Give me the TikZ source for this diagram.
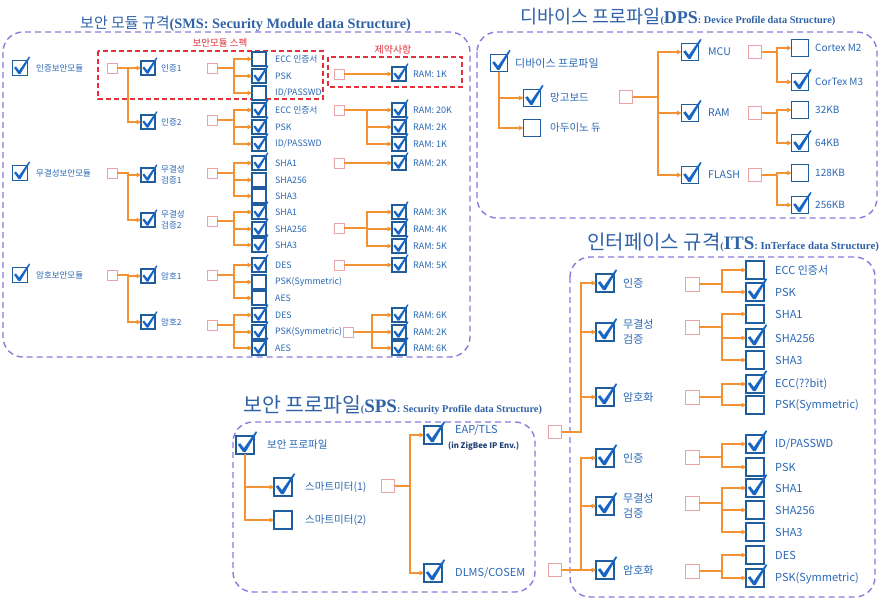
\documentclass[tikz,border=0pt]{standalone}
\usepackage{fontspec}
\setmainfont{Noto Sans CJK KR}
\newfontfamily\ser{Liberation Serif}
\usetikzlibrary{arrows.meta}
\definecolor{purp}{HTML}{8A7CDC}
\definecolor{redd}{HTML}{E2313B}
\definecolor{orng}{HTML}{F39232}
\definecolor{pinkc}{HTML}{E9A2A6}
\definecolor{boxb}{HTML}{1F5D9C}
\definecolor{chkb}{HTML}{1766C6}
\definecolor{txtb}{HTML}{2A68B5}
\definecolor{ttlb}{HTML}{2F62A6}
\definecolor{navy}{HTML}{1E3F73}
\newcommand\CK[2]{\fill[chkb] ([shift={(-0.40*#2,-0.02*#2)}]#1.center) -- ([shift={(-0.27*#2,-0.10*#2)}]#1.center) -- ([shift={(-0.06*#2,0.17*#2)}]#1.center) -- ([shift={(0.60*#2,-0.76*#2)}]#1.center) -- ([shift={(0.68*#2,-0.72*#2)}]#1.center) -- ([shift={(0.03*#2,0.40*#2)}]#1.center) -- ([shift={(-0.10*#2,0.40*#2)}]#1.center) -- cycle;}
\newcommand\ckb[4]{\node[cbx=#4] (#1) at (#2,#3) {};\CK{#1}{#4}}
\newcommand\ucb[4]{\node[cbx=#4] (#1) at (#2,#3) {};}
\newcommand\fs[1]{\fontsize{#1}{#1}\selectfont}
\tikzset{
  cbx/.style={draw=boxb, line width=1.1pt, fill=white, minimum size=#1, inner sep=0pt, outer sep=0pt},
  pk/.style={draw=pinkc, line width=0.9pt, fill=white, minimum size=#1, inner sep=0pt, outer sep=0pt},
  lb/.style={anchor=west, text=txtb, inner sep=0pt, font=\fs{#1}, align=left},
  ttl/.style={anchor=base west, text=ttlb, inner sep=0pt},
  arr/.style={draw=orng, line width=1.3pt, -{Triangle[length=4.5pt,width=4.5pt]}},
  grp/.style={draw=purp, line width=1.4pt, dash pattern=on 6pt off 4pt, rounded corners=20pt},
  rgrp/.style={draw=redd, line width=1.4pt, dash pattern=on 5pt off 3pt},
  rlb/.style={text=redd, inner sep=0pt, font=\fs{#1}},
}
\begin{document}
\begin{tikzpicture}[x=1pt,y=-1pt]
\useasboundingbox (0,0) rectangle (894,600);
\fill[white] (0,0) rectangle (894,600);

% ---------------- group frames and titles
\draw[grp] (3,32) rectangle (470,357);
\draw[grp] (477,32) rectangle (877,218);
\draw[grp] (570,257) rectangle (875,597);
\draw[grp] (233,422) rectangle (535,592);
\draw[rgrp] (98,51) rectangle (323,99);
\draw[rgrp] (328,57) rectangle (462,87);
\node[rlb=9.5] (rl1) at (220,43) {보안모듈 스펙};
\node[rlb=10] (rl2) at (393,50) {제약사항};

\node[ttl] (tSMS) at (80,28) {\fs{15}보안 모듈 규격{\ser\bfseries\fs{14.3}(SMS: Security Module data Structure)}};
\node[ttl] (tDPS) at (520,23) {\fs{18.5}디바이스 프로파일{\ser\bfseries\fs{10}(}{\ser\bfseries\fs{18}DPS}{\ser\bfseries\fs{10.3}: Device Profile data Structure)}};
\node[ttl] (tITS) at (587,249) {\fs{20}인터페이스 규격{\ser\bfseries\fs{10}(}{\ser\bfseries\fs{19}ITS}{\ser\bfseries\fs{10.8}: InTerface data Structure)}};
\node[ttl] (tSPS) at (243,412) {\fs{20.5}보안 프로파일{\ser\bfseries\fs{10}(}{\ser\bfseries\fs{19}SPS}{\ser\bfseries\fs{10.3}: Security Profile data Structure)}};

% ---------------- SMS
\coordinate (xA) at (128,0); \coordinate (xB) at (234,0);
\coordinate (xC) at (367,0); \coordinate (xD) at (372,0);
\ckb{a1}{20}{68}{15}  \node[lb=8.5] (a1t) at (36,68) {인증보안모듈};
\ckb{a2}{20}{173}{15} \node[lb=8.5] (a2t) at (36,173) {무결성보안모듈};
\ckb{a3}{20}{275}{15} \node[lb=8.5] (a3t) at (36,275) {암호보안모듈};
\node[pk=10] (pa1) at (112,68) {};
\node[pk=10] (pa2) at (112,173) {};
\node[pk=10] (pa3) at (112,275) {};
\ckb{b11}{148}{68}{14}  \node[lb=8.5] (b11t) at (161,68) {인증1};
\ckb{b12}{148}{122}{14} \node[lb=8.5] (b12t) at (161,122) {인증2};
\ckb{b21}{148}{175}{14} \node[lb=8.5] (b21t) at (161,175) {무결성\\[2.5pt]검증1};
\ckb{b22}{148}{220}{14} \node[lb=8.5] (b22t) at (161,220) {무결성\\[2.5pt]검증2};
\ckb{b31}{148}{276}{14} \node[lb=8.5] (b31t) at (161,276) {암호1};
\ckb{b32}{148}{322}{14} \node[lb=8.5] (b32t) at (161,322) {암호2};
\node[pk=10] (q11) at (212,68) {};
\node[pk=10] (q12) at (212,120) {};
\node[pk=10] (q21) at (212,173) {};
\node[pk=10] (q22) at (212,221) {};
\node[pk=10] (q31) at (212,275) {};
\node[pk=10] (q32) at (212,325) {};
\ucb{c111}{259}{59}{14}  \node[lb=8.8] (c111t) at (275,59) {ECC 인증서};
\ckb{c112}{259}{76}{14}  \node[lb=8.8] (c112t) at (275,76) {PSK};
\ucb{c113}{259}{93}{14}  \node[lb=8.8] (c113t) at (275,93) {ID/PASSWD};
\ckb{c121}{259}{110}{14} \node[lb=8.8] (c121t) at (275,110) {ECC 인증서};
\ckb{c122}{259}{127}{14} \node[lb=8.8] (c122t) at (275,127) {PSK};
\ckb{c123}{259}{144}{14} \node[lb=8.8] (c123t) at (275,144) {ID/PASSWD};
\ckb{c211}{259}{163}{14} \node[lb=8.8] (c211t) at (275,163) {SHA1};
\ucb{c212}{259}{180}{14} \node[lb=8.8] (c212t) at (275,180) {SHA256};
\ucb{c213}{259}{196}{14} \node[lb=8.8] (c213t) at (275,196) {SHA3};
\ckb{c221}{259}{212}{14} \node[lb=8.8] (c221t) at (275,212) {SHA1};
\ckb{c222}{259}{229}{14} \node[lb=8.8] (c222t) at (275,229) {SHA256};
\ckb{c223}{259}{245}{14} \node[lb=8.8] (c223t) at (275,245) {SHA3};
\ckb{c311}{259}{265}{14} \node[lb=8.8] (c311t) at (275,265) {DES};
\ucb{c312}{259}{282}{14} \node[lb=8.8] (c312t) at (275,282) {PSK(Symmetric)};
\ucb{c313}{259}{298}{14} \node[lb=8.8] (c313t) at (275,298) {AES};
\ckb{c321}{259}{315}{14} \node[lb=8.8] (c321t) at (275,315) {DES};
\ckb{c322}{259}{332}{14} \node[lb=8.8] (c322t) at (275,332) {PSK(Symmetric)};
\ckb{c323}{259}{348}{14} \node[lb=8.8] (c323t) at (275,348) {AES};
\node[pk=10] (r1) at (339,74) {};
\node[pk=10] (r2) at (339,110) {};
\node[pk=10] (r3) at (339,163) {};
\node[pk=10] (r4) at (339,228) {};
\node[pk=10] (r5) at (339,265) {};
\node[pk=10] (r6) at (348,332) {};
\ckb{m1}{399}{74}{14}   \node[lb=9] (m1t) at (413,74) {RAM: 1K};
\ckb{m21}{399}{110}{14} \node[lb=9] (m21t) at (413,110) {RAM: 20K};
\ckb{m22}{399}{127}{14} \node[lb=9] (m22t) at (413,127) {RAM: 2K};
\ckb{m23}{399}{144}{14} \node[lb=9] (m23t) at (413,144) {RAM: 1K};
\ckb{m3}{399}{163}{14}  \node[lb=9] (m3t) at (413,163) {RAM: 2K};
\ckb{m41}{399}{212}{14} \node[lb=9] (m41t) at (413,212) {RAM: 3K};
\ckb{m42}{399}{229}{14} \node[lb=9] (m42t) at (413,229) {RAM: 4K};
\ckb{m43}{399}{246}{14} \node[lb=9] (m43t) at (413,246) {RAM: 5K};
\ckb{m5}{399}{265}{14}  \node[lb=9] (m5t) at (413,265) {RAM: 5K};
\ckb{m61}{399}{315}{14} \node[lb=9] (m61t) at (413,315) {RAM: 6K};
\ckb{m62}{399}{332}{14} \node[lb=9] (m62t) at (413,332) {RAM: 2K};
\ckb{m63}{399}{348}{14} \node[lb=9] (m63t) at (413,348) {RAM: 6K};
\foreach \p/\c in {pa1/b11,pa1/b12,pa2/b21,pa2/b22,pa3/b31,pa3/b32}
  {\draw[arr] (\p.east) -- (\p.east -| xA) |- (\c.west);}
\foreach \p/\c in {q11/c111,q11/c112,q11/c113,q12/c121,q12/c122,q12/c123,
  q21/c211,q21/c212,q21/c213,q22/c221,q22/c222,q22/c223,
  q31/c311,q31/c312,q31/c313,q32/c321,q32/c322,q32/c323}
  {\draw[arr] (\p.east) -- (\p.east -| xB) |- (\c.west);}
\foreach \p/\c in {r2/m21,r2/m22,r2/m23,r4/m41,r4/m42,r4/m43}
  {\draw[arr] (\p.east) -- (\p.east -| xC) |- (\c.west);}
\foreach \p/\c in {r6/m61,r6/m62,r6/m63}
  {\draw[arr] (\p.east) -- (\p.east -| xD) |- (\c.west);}
\foreach \p/\c in {r1/m1,r3/m3,r5/m5}
  {\draw[arr] (\p.east) -- (\c.west);}

% ---------------- DPS
\coordinate (xE) at (658,0); \coordinate (xF) at (777,0);
\ckb{d0}{499}{63}{17}  \node[lb=11] (d0t) at (515,63) {디바이스 프로파일};
\ckb{d1}{532}{98}{17}  \node[lb=10.5] (d1t) at (550,98) {망고보드};
\ucb{d2}{532}{128}{17} \node[lb=10.5] (d2t) at (550,128) {아두이노 듀};
\draw[arr] (d0.south) |- (d1.west);
\draw[arr] (d0.south) |- (d2.west);
\node[pk=13] (pd) at (626,97) {};
\ckb{e1}{690}{52}{17}  \node[lb=10.5] (e1t) at (708,52) {MCU};
\ckb{e2}{690}{113}{17} \node[lb=10.5] (e2t) at (708,113) {RAM};
\ckb{e3}{690}{175}{17} \node[lb=10.5] (e3t) at (708,175) {FLASH};
\node[pk=13] (pe1) at (755,52) {};
\node[pk=13] (pe2) at (755,113) {};
\node[pk=13] (pe3) at (755,175) {};
\ucb{f11}{800}{48}{17}  \node[lb=10] (f11t) at (815,48) {Cortex M2};
\ckb{f12}{800}{82}{17}  \node[lb=10] (f12t) at (815,82) {CorTex M3};
\ucb{f21}{800}{110}{17} \node[lb=10] (f21t) at (815,110) {32KB};
\ckb{f22}{800}{143}{17} \node[lb=10] (f22t) at (815,143) {64KB};
\ucb{f31}{800}{173}{17} \node[lb=10] (f31t) at (815,173) {128KB};
\ckb{f32}{800}{205}{17} \node[lb=10] (f32t) at (815,205) {256KB};
\foreach \c in {e1,e2,e3} {\draw[arr] (pd.east) -- (pd.east -| xE) |- (\c.west);}
\foreach \p/\c in {pe1/f11,pe1/f12,pe2/f21,pe2/f22,pe3/f31,pe3/f32}
  {\draw[arr] (\p.east) -- (\p.east -| xF) |- (\c.west);}

% ---------------- SPS
\coordinate (xI) at (410,0);
\ckb{s0}{245}{445}{18}  \node[lb=10.5] (s0t) at (267,445) {보안 프로파일};
\ckb{s1}{283}{487}{18}  \node[lb=10.5] (s1t) at (305,487) {스마트미터(1)};
\ucb{s2}{283}{520}{18}  \node[lb=10.5] (s2t) at (305,520) {스마트미터(2)};
\draw[arr] (s0.south) |- (s1.west);
\draw[arr] (s0.south) |- (s2.west);
\node[pk=13] (ps) at (388,486) {};
\ckb{t1}{433}{435}{18}  \node[lb=11] (t1t) at (455,430) {EAP/TLS};
\node[lb=7.8, text=navy, font=\fs{7.8}\bfseries] (t1s) at (448,446) {(in ZigBee IP Env.)};
\ckb{t2}{433}{573}{18}  \node[lb=11] (t2t) at (455,573) {DLMS/COSEM};
\foreach \c in {t1,t2} {\draw[arr] (ps.east) -- (ps.east -| xI) |- (\c.west);}

% ---------------- ITS
\coordinate (xG) at (581,0); \coordinate (xH) at (722,0);
\node[pk=13] (px1) at (555,432) {};
\node[pk=13] (px2) at (555,570) {};
\ckb{g1}{605}{283}{18} \node[lb=11] (g1t) at (623,283) {인증};
\ckb{g2}{605}{332}{18} \node[lb=11] (g2t) at (623,332) {무결성\\[3.5pt]검증};
\ckb{g3}{605}{397}{18} \node[lb=11] (g3t) at (623,397) {암호화};
\ckb{g4}{605}{458}{18} \node[lb=11] (g4t) at (623,458) {인증};
\ckb{g5}{605}{506}{18} \node[lb=11] (g5t) at (623,506) {무결성\\[3.5pt]검증};
\ckb{g6}{605}{570}{18} \node[lb=11] (g6t) at (623,570) {암호화};
\node[pk=14] (pg1) at (692,284) {};
\node[pk=14] (pg2) at (692,327) {};
\node[pk=14] (pg3) at (692,397) {};
\node[pk=14] (pg4) at (692,457) {};
\node[pk=14] (pg5) at (692,503) {};
\node[pk=14] (pg6) at (692,571) {};
\ucb{h11}{755}{270}{18} \node[lb=11] (h11t) at (775,270) {ECC 인증서};
\ckb{h12}{755}{292}{18} \node[lb=11] (h12t) at (775,292) {PSK};
\ucb{h21}{755}{314}{18} \node[lb=11] (h21t) at (775,314) {SHA1};
\ckb{h22}{755}{338}{18} \node[lb=11] (h22t) at (775,338) {SHA256};
\ucb{h23}{755}{360}{18} \node[lb=11] (h23t) at (775,360) {SHA3};
\ckb{h31}{755}{384}{18} \node[lb=11] (h31t) at (775,384) {ECC(??bit)};
\ucb{h32}{755}{405}{18} \node[lb=11] (h32t) at (775,405) {PSK(Symmetric)};
\ckb{h41}{755}{444}{18} \node[lb=11] (h41t) at (775,444) {ID/PASSWD};
\ucb{h42}{755}{467}{18} \node[lb=11] (h42t) at (775,467) {PSK};
\ckb{h51}{755}{488}{18} \node[lb=11] (h51t) at (775,488) {SHA1};
\ucb{h52}{755}{510}{18} \node[lb=11] (h52t) at (775,510) {SHA256};
\ucb{h53}{755}{532}{18} \node[lb=11] (h53t) at (775,532) {SHA3};
\ucb{h61}{755}{555}{18} \node[lb=11] (h61t) at (775,555) {DES};
\ckb{h62}{755}{578}{18} \node[lb=11] (h62t) at (775,578) {PSK(Symmetric)};
\foreach \c in {g1,g2,g3} {\draw[arr] (px1.east) -- (px1.east -| xG) |- (\c.west);}
\foreach \c in {g4,g5,g6} {\draw[arr] (px2.east) -- (px2.east -| xG) |- (\c.west);}
\foreach \p/\c in {pg1/h11,pg1/h12,pg2/h21,pg2/h22,pg2/h23,pg3/h31,pg3/h32,
  pg4/h41,pg4/h42,pg5/h51,pg5/h52,pg5/h53,pg6/h61,pg6/h62}
  {\draw[arr] (\p.east) -- (\p.east -| xH) |- (\c.west);}
\end{tikzpicture}
\end{document}
